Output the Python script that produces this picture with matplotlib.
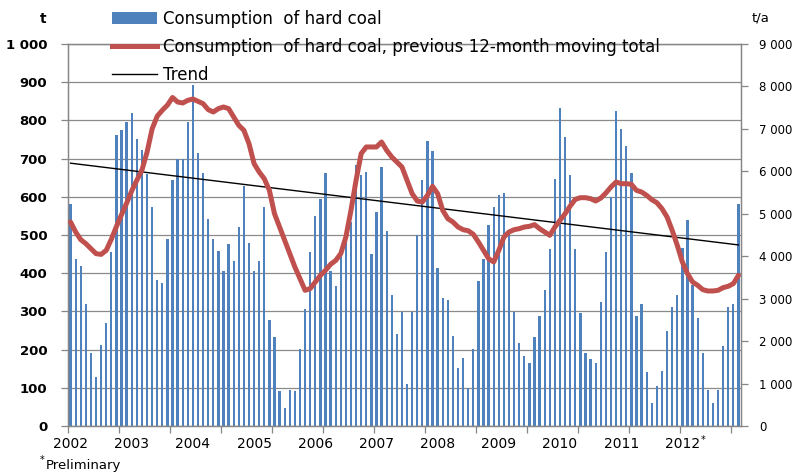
import matplotlib
matplotlib.use('Agg')
import matplotlib.pyplot as plt
import numpy as np
from matplotlib.lines import Line2D
from matplotlib.patches import Patch

# ---- data ----
year_labels = ['2002', '2003', '2004', '2005', '2006', '2007', '2008',
               '2009', '2010', '2011', '2012']

consumption = [  # monthly consumption of hard coal, 1000 t (left axis)
    582, 438, 418, 320, 191, 128, 213, 270, 455, 761, 774, 796,   # 2002
    820, 752, 723, 660, 573, 381, 375, 489, 643, 700, 700, 797,   # 2003
    892, 715, 661, 543, 489, 458, 405, 476, 431, 521, 628, 480,   # 2004
    405, 431, 572, 278, 233, 92, 48, 95, 92, 202, 305, 455,       # 2005
    551, 593, 661, 405, 366, 451, 495, 534, 682, 656, 665, 451,   # 2006
    560, 678, 510, 342, 242, 298, 111, 298, 499, 645, 745, 719,   # 2007
    414, 335, 331, 235, 152, 179, 100, 202, 380, 438, 527, 572,   # 2008
    606, 610, 505, 298, 216, 182, 166, 233, 287, 355, 464, 647,   # 2009
    832, 757, 656, 464, 296, 191, 175, 166, 325, 455, 600, 824,   # 2010
    778, 732, 661, 287, 320, 141, 61, 106, 144, 250, 312, 342,    # 2011
    467, 538, 368, 283, 191, 93, 61, 93, 209, 312, 320, 582,      # 2012
]

moving_total = [  # previous 12-month moving total, t/a (right axis)
    4806, 4571, 4390, 4296, 4178, 4060, 4044, 4139, 4400, 4700, 4980, 5250,
    5540, 5790, 6030, 6450, 7000, 7300, 7440, 7560, 7740, 7633, 7610, 7673,
    7704, 7650, 7594, 7453, 7398, 7477, 7516, 7477, 7280, 7084, 6966, 6652,
    6181, 5984, 5826, 5551, 5002, 4688, 4374, 4060, 3746, 3471, 3197, 3236,
    3393, 3549, 3667, 3809, 3900, 4060, 4453, 5080, 5789, 6417, 6574, 6574,
    6574, 6691, 6495, 6338, 6220, 6102, 5789, 5474, 5301, 5277, 5434, 5646,
    5474, 5080, 4884, 4806, 4688, 4625, 4600, 4516, 4335, 4139, 3942, 3864,
    4139, 4453, 4571, 4625, 4649, 4688, 4704, 4744, 4649, 4571, 4493, 4688,
    4845, 5002, 5183, 5340, 5379, 5379, 5356, 5301, 5370, 5490, 5631, 5749,
    5709, 5709, 5694, 5551, 5513, 5434, 5332, 5261, 5120, 4924, 4610, 4257,
    3864, 3589, 3393, 3314, 3212, 3181, 3181, 3197, 3260, 3292, 3354, 3549,
]

trend_values = [688, 474]   # trend line at first and last month (left axis)

label_bars = 'Consumption  of hard coal'
label_total = 'Consumption  of hard coal, previous 12-month moving total'
label_trend = 'Trend'

# ---- style ----
BLUE = '#4F81BD'
RED = '#C0504D'
GRID = '#8A8A8A'
SPINE = '#868686'

W, H = 796, 474
fig = plt.figure(figsize=(W / 100, H / 100), dpi=100)
L, R, T, B = 68, 741, 44, 426
ax = fig.add_axes([L / W, 1 - B / H, (R - L) / W, (B - T) / H])

n = len(consumption)
x = np.arange(n)

ax.bar(x, consumption, width=0.45, color=BLUE, zorder=2, linewidth=0)
ax.plot([x[0], x[-1]], trend_values, color='black', lw=1.0, zorder=3)

ax.set_xlim(-0.5, n - 0.5)
ax.set_ylim(0, 1000)
ax.set_yticks(range(0, 1001, 100))
ax.set_yticklabels([f'{v:,}'.replace(',', ' ') for v in range(0, 1001, 100)],
                   fontsize=9.5, fontweight='bold')
ax.grid(axis='y', color=GRID, lw=0.9, zorder=0)
ax.set_axisbelow(True)

ax.set_xticks(np.arange(-0.5, n, 10))
ax.set_xticklabels([])
ax.tick_params(axis='x', direction='out', length=5, color=SPINE, width=0.9)
ax.tick_params(axis='y', direction='out', length=5, color=SPINE, width=0.9, pad=10)

for s in ['left', 'right', 'bottom', 'top']:
    ax.spines[s].set_color(SPINE)
    ax.spines[s].set_linewidth(0.9)

# year labels
for i, lab in enumerate(year_labels):
    ax.text(i * 12, -0.028, lab, transform=ax.get_xaxis_transform(),
            ha='center', va='top', fontsize=10)
ax.text(120 + 3.6, -0.024, '*', transform=ax.get_xaxis_transform(),
        ha='left', va='top', fontsize=7)

ax2 = ax.twinx()
ax2.plot(x, moving_total, color=RED, lw=3.6, solid_joinstyle='round',
         solid_capstyle='round', zorder=4)
ax2.set_ylim(0, 9000)
ax2.set_yticks(range(0, 9001, 1000))
ax2.set_yticklabels([f'{v:,}'.replace(',', ' ') for v in range(0, 9001, 1000)],
                    fontsize=8.5)
ax2.tick_params(axis='y', direction='out', length=5, color=SPINE, width=0.9, pad=8)
for s in ['left', 'right', 'bottom', 'top']:
    ax2.spines[s].set_color(SPINE)
    ax2.spines[s].set_linewidth(0.9)

# axis unit labels
fig.text(43 / W, 1 - 19 / H, 't', ha='center', va='center', fontsize=10,
         fontweight='bold')
fig.text(761 / W, 1 - 18 / H, 't/a', ha='center', va='center', fontsize=9.5)

# footnote
fig.text(40 / W, 1 - 460 / H, '*', ha='left', va='center', fontsize=7)
fig.text(46 / W, 1 - 465 / H, 'Preliminary', ha='left', va='center',
         fontsize=9.5)

handles = [Patch(facecolor=BLUE, edgecolor='none'),
           Line2D([], [], color=RED, lw=3.6),
           Line2D([], [], color='black', lw=1.0)]
fig.legend(handles, [label_bars, label_total, label_trend],
           loc='upper left', bbox_to_anchor=(112 / W, 1 - 10 / H),
           frameon=False, fontsize=12, handlelength=2.7, handletextpad=0.35,
           labelspacing=0.6, borderpad=0, borderaxespad=0)

fig.savefig('out.png', dpi=100)
